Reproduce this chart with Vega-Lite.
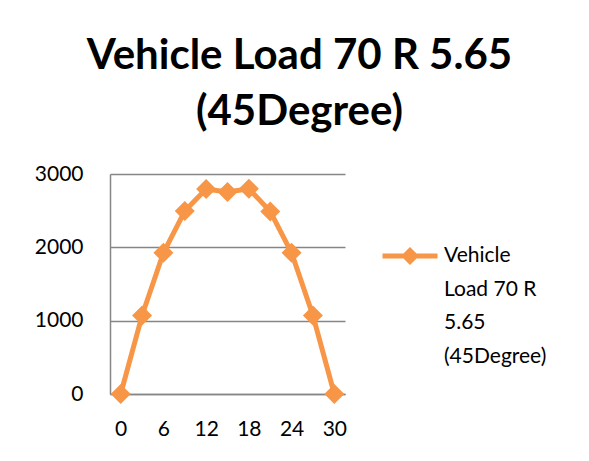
{
  "$schema": "https://vega.github.io/schema/vega-lite/v6.json",
  "autosize": "none",
  "width": 235,
  "height": 220,
  "padding": {"left": 110, "top": 174, "right": 244, "bottom": 67},
  "background": "white",
  "title": {
    "text": ["Vehicle Load 70 R 5.65", "(45Degree)"],
    "font": "Lato",
    "fontWeight": "bold",
    "fontSize": 42,
    "lineHeight": 56,
    "color": "#000000",
    "anchor": "middle",
    "dx": 72,
    "offset": 29
  },
  "data": {
    "values": [
      {"x": 0, "load": 0, "series": "Vehicle Load 70 R 5.65 (45Degree)"},
      {"x": 3, "load": 1070, "series": "Vehicle Load 70 R 5.65 (45Degree)"},
      {"x": 6, "load": 1925, "series": "Vehicle Load 70 R 5.65 (45Degree)"},
      {"x": 9, "load": 2495, "series": "Vehicle Load 70 R 5.65 (45Degree)"},
      {"x": 12, "load": 2795, "series": "Vehicle Load 70 R 5.65 (45Degree)"},
      {"x": 15, "load": 2755, "series": "Vehicle Load 70 R 5.65 (45Degree)"},
      {"x": 18, "load": 2800, "series": "Vehicle Load 70 R 5.65 (45Degree)"},
      {"x": 21, "load": 2490, "series": "Vehicle Load 70 R 5.65 (45Degree)"},
      {"x": 24, "load": 1925, "series": "Vehicle Load 70 R 5.65 (45Degree)"},
      {"x": 27, "load": 1070, "series": "Vehicle Load 70 R 5.65 (45Degree)"},
      {"x": 30, "load": 0, "series": "Vehicle Load 70 R 5.65 (45Degree)"}
    ]
  },
  "mark": {
    "type": "line",
    "strokeWidth": 5,
    "strokeJoin": "round",
    "point": {"shape": "diamond", "size": 400, "filled": true, "opacity": 1}
  },
  "encoding": {
    "x": {
      "field": "x",
      "type": "ordinal",
      "scale": {"type": "point", "padding": 0.5},
      "axis": {
        "title": null,
        "values": [0, 6, 12, 18, 24, 30],
        "labelAngle": 0,
        "labelFont": "Lato",
        "labelFontSize": 21,
        "labelColor": "#000000",
        "labelPadding": 24,
        "ticks": false,
        "domain": true,
        "domainColor": "#868686",
        "domainWidth": 1.5,
        "grid": false
      }
    },
    "y": {
      "field": "load",
      "type": "quantitative",
      "scale": {"domain": [0, 3000], "nice": false},
      "axis": {
        "title": null,
        "values": [0, 1000, 2000, 3000],
        "format": "d",
        "labelFont": "Lato",
        "labelFontSize": 21,
        "labelColor": "#000000",
        "labelPadding": 27,
        "ticks": false,
        "domain": true,
        "domainColor": "#868686",
        "domainWidth": 1.5,
        "grid": true,
        "gridColor": "#868686",
        "gridWidth": 1.5
      }
    },
    "color": {
      "field": "series",
      "type": "nominal",
      "scale": {"range": ["#F79646"]},
      "legend": {
        "title": null,
        "orient": "none",
        "legendX": 270,
        "legendY": 41,
        "labelFont": "Lato",
        "labelFontSize": 21,
        "labelColor": "#000000",
        "labelBaseline": "top",
        "labelLimit": 300,
        "labelOffset": 4,
        "labelExpr": "['Vehicle', 'Load 70 R', '5.65', '(45Degree)']",
        "symbolType": "M-1,0.4H1M0,0.2L0.2,0.4L0,0.6L-0.2,0.4Z",
        "symbolSize": 3025,
        "symbolStrokeWidth": 5,
        "symbolFillColor": "#F79646",
        "symbolStrokeColor": "#F79646",
        "encode": {
          "labels": {"update": {"lineHeight": {"value": 33.5}}},
          "symbols": {"update": {"fill": {"value": "#F79646"}, "stroke": {"value": "#F79646"}, "strokeWidth": {"value": 5}, "opacity": {"value": 1}}}
        }
      }
    }
  },
  "config": {
    "view": {"stroke": null}
  }
}
